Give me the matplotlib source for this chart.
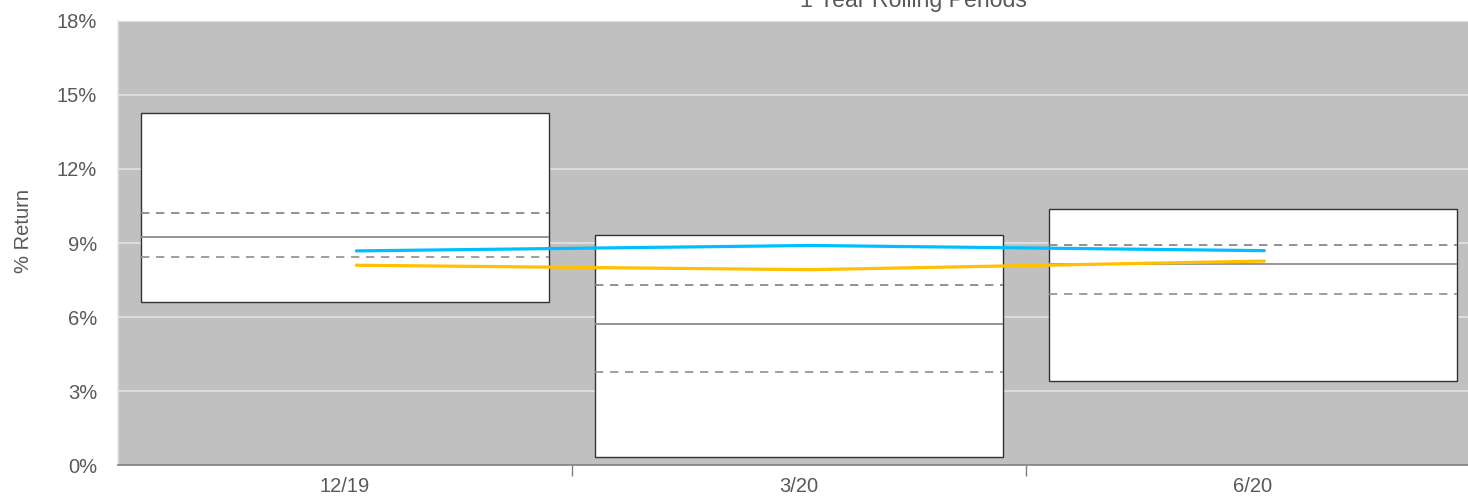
import matplotlib
matplotlib.use("Agg")
import matplotlib.pyplot as plt
import numpy as np

plt.rcParams['font.family'] = ['Liberation Sans', 'DejaVu Sans']

# Rolling-period distribution data (% return)
periods = ["12/19", "3/20", "6/20"]
box_high = [14.25, 9.31, 10.38]
upper_quartile = [10.2, 7.29, 8.92]
median = [9.25, 5.71, 8.14]
lower_quartile = [8.45, 3.79, 6.92]
box_low = [6.6, 0.34, 3.43]

portfolio = [8.68, 8.90, 8.69]   # blue
benchmark = [8.10, 7.92, 8.27]   # gold

y_ticks = [0, 3, 6, 9, 12, 15, 18]

W, H = 1468, 496
fig = plt.figure(figsize=(W / 100, H / 100), dpi=100)
ax = fig.add_axes([118 / W, 1 - 465.3 / H, (1480 - 118) / W, (465.3 - 20.7) / H])

text_col = "#595959"
ax.set_facecolor("#C0C0C0")
x = np.arange(len(periods))
bw = 0.9

# horizontal gridlines behind everything
for yv in y_ticks[1:]:
    ax.axhline(yv, color="#E4E4E4", lw=1.2, zorder=0)

heights = np.array(box_high) - np.array(box_low)
ax.bar(x, heights, bottom=box_low, width=bw, facecolor="white",
       edgecolor="#333333", linewidth=1.0, zorder=2)
ax.hlines(median, x - bw / 2, x + bw / 2, colors="#8C8C8C", lw=1.3, zorder=3)
ax.hlines(upper_quartile, x - bw / 2, x + bw / 2, colors="#7F7F7F", lw=1.2,
          linestyles=(0, (5, 4)), zorder=3)
ax.hlines(lower_quartile, x - bw / 2, x + bw / 2, colors="#8F8F8F", lw=1.2,
          linestyles=(0, (5, 4)), zorder=3)

xl = x + 0.025
ax.plot(xl, portfolio, color="#00BFFF", lw=2.3, zorder=4, solid_capstyle="round")
ax.plot(xl, benchmark, color="#FFC000", lw=2.3, zorder=4, solid_capstyle="round")

ax.set_xlim(-0.5, 2.5)
ax.set_ylim(0, 18)
ax.set_yticks(y_ticks)
ax.set_yticklabels([f"{v}%" for v in y_ticks], fontsize=14.5, color=text_col)
ax.tick_params(axis="y", length=0, pad=15)

ax.set_xticks(x)
ax.set_xticklabels(periods, fontsize=14.5, color=text_col)
ax.set_xticks([0.5, 1.5], minor=True)
ax.tick_params(axis="x", which="major", length=0, pad=8.5)
ax.tick_params(axis="x", which="minor", length=8, color="#808080", width=1)

for s in ["top", "right"]:
    ax.spines[s].set_visible(False)
ax.spines["left"].set_color("#E4E4E4")
ax.spines["left"].set_linewidth(1.2)
ax.spines["bottom"].set_color("#808080")
ax.spines["bottom"].set_linewidth(1.2)

fig.text(24 / W, 1 - 231 / H, "% Return", rotation=90, ha="center",
         va="center", fontsize=14.5, color=text_col)

fig.text(913 / W, 1 - 7.5 / H, "1 Year Rolling Periods", ha="center",
         va="baseline", fontsize=16.7, color=text_col)

fig.savefig("out.png", dpi=100)
